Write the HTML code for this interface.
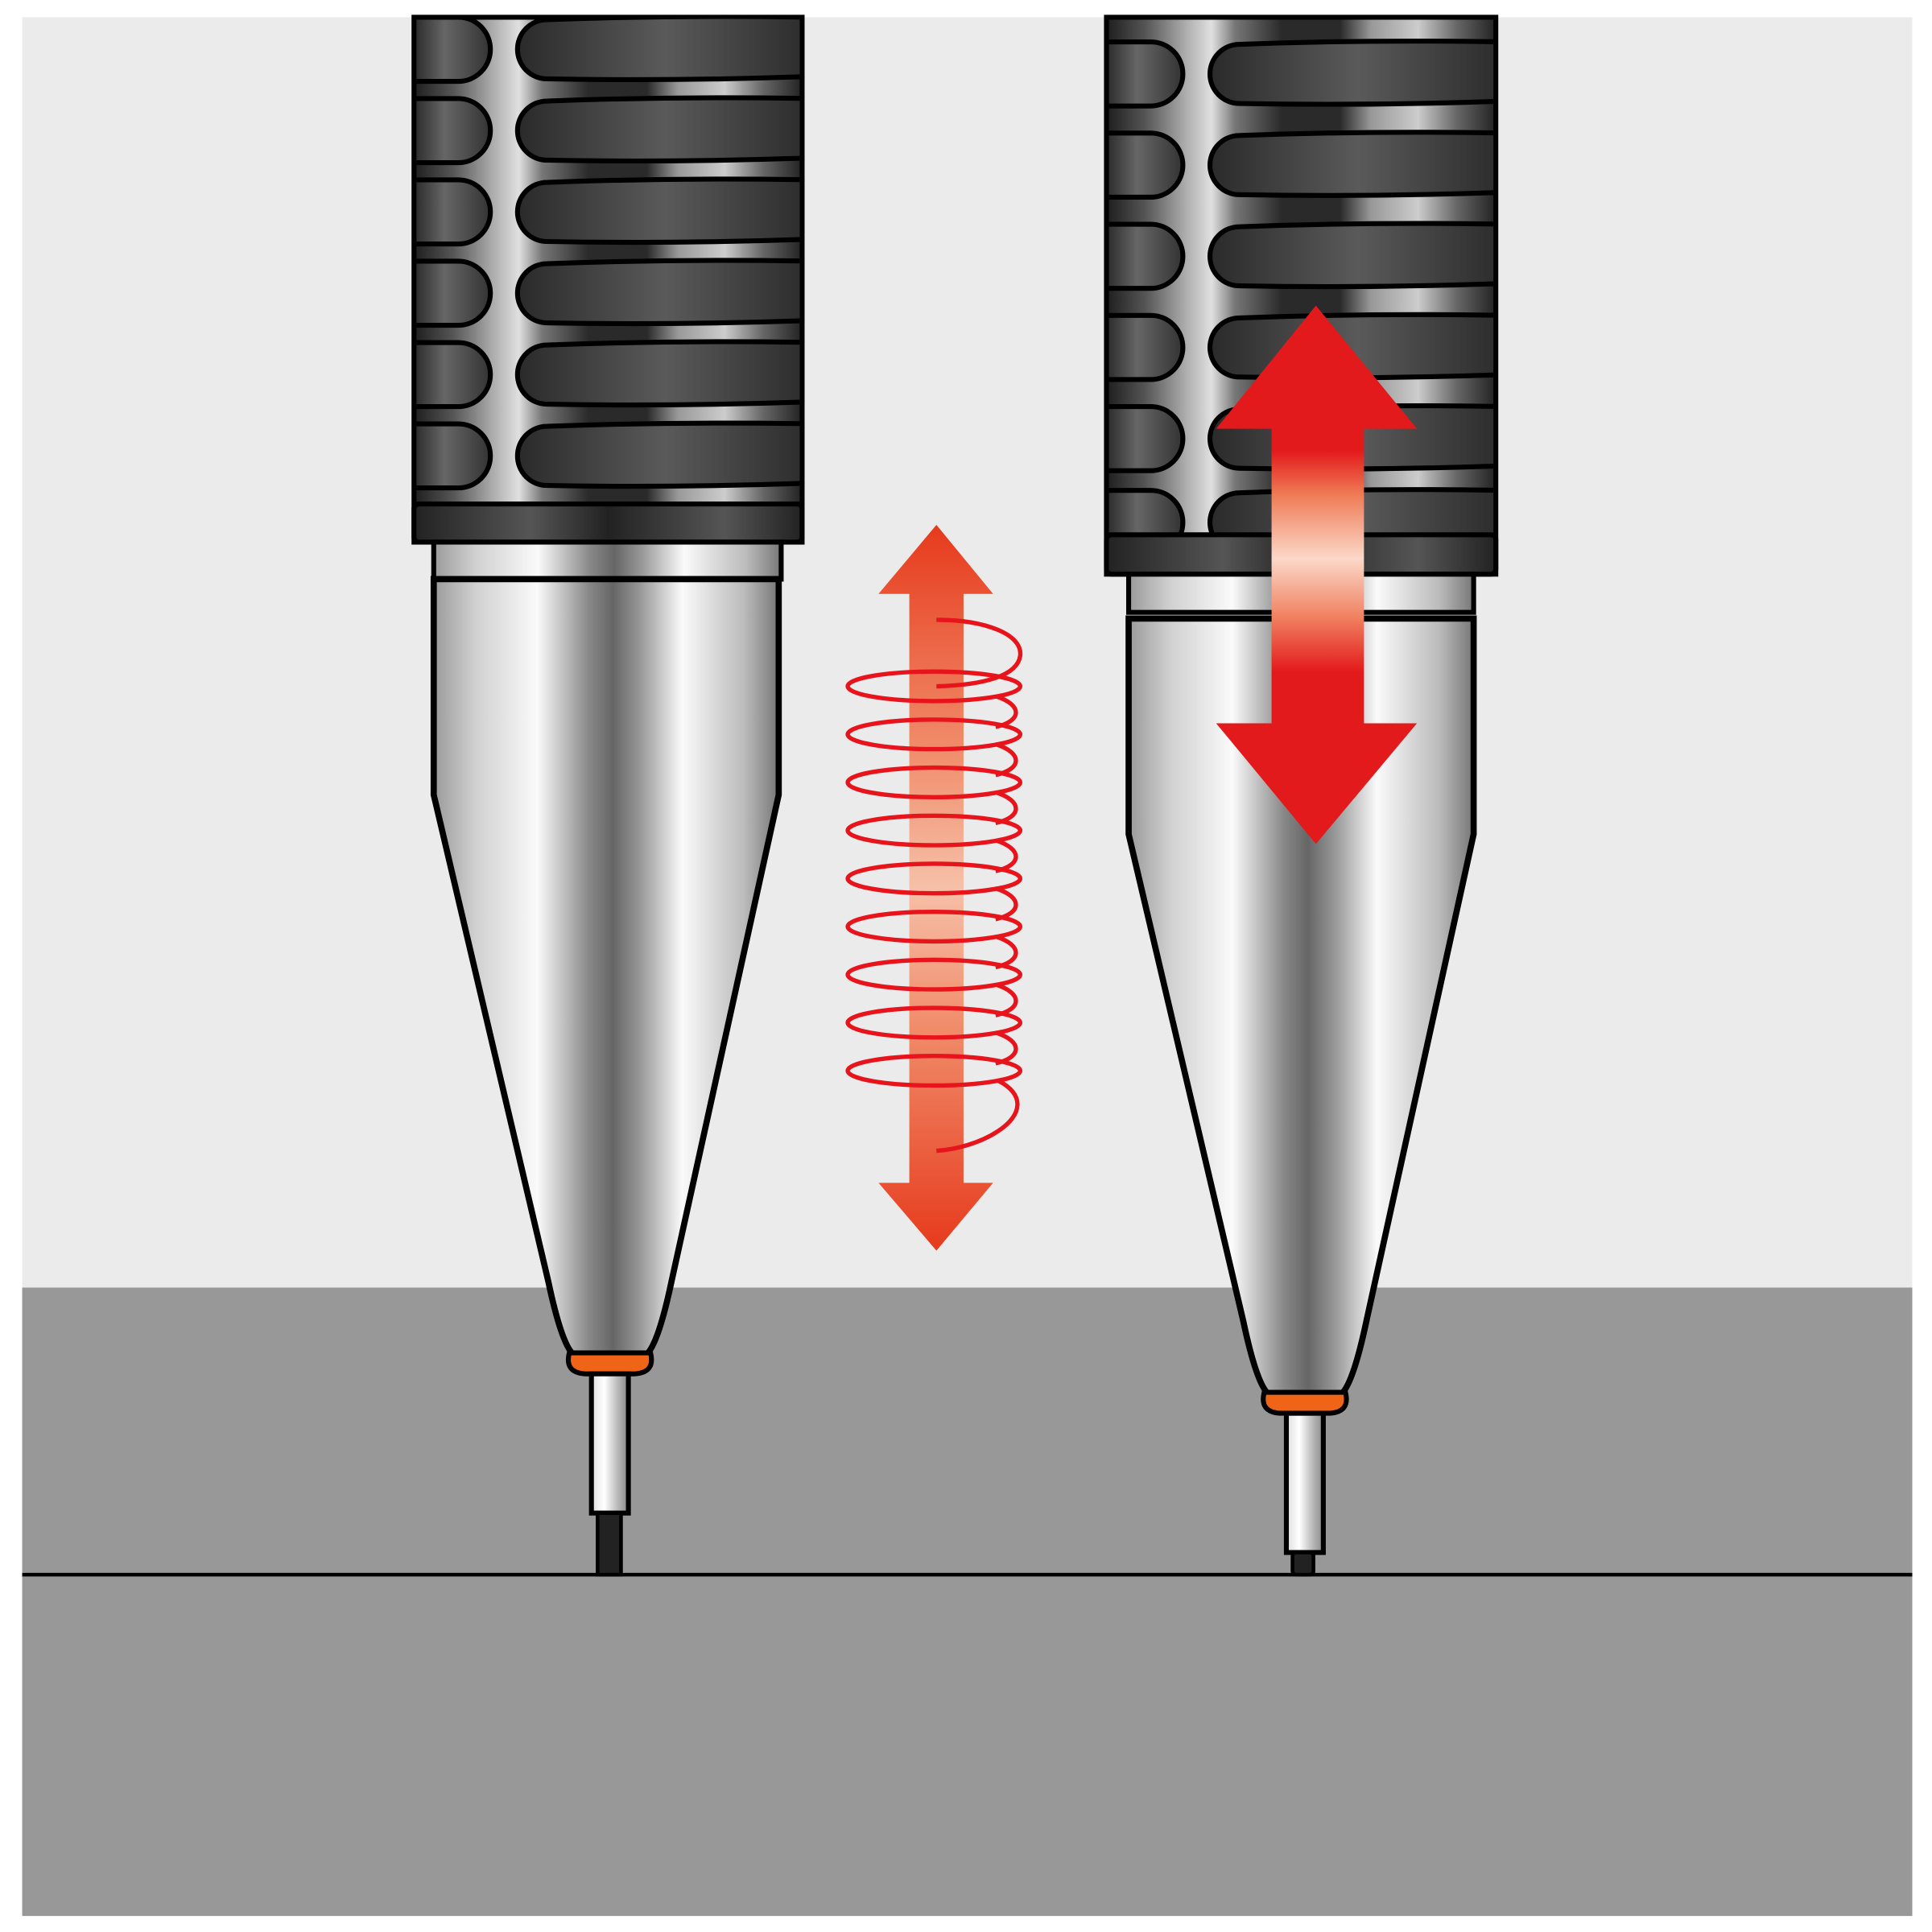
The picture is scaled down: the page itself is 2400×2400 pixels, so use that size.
<!DOCTYPE html>
<html><head><meta charset="utf-8"><style>html,body{margin:0;padding:0;background:#fff}svg{display:block}</style></head>
<body>
<svg width="2400" height="2400" viewBox="0 0 1568 1568" xmlns="http://www.w3.org/2000/svg">
<defs>
<linearGradient id="grip" x1="0" x2="1" y1="0" y2="0">
<stop offset="0" stop-color="#1e1e1e"/><stop offset="0.1" stop-color="#555"/><stop offset="0.2" stop-color="#aaa"/><stop offset="0.27" stop-color="#e0e0e0"/><stop offset="0.33" stop-color="#777"/><stop offset="0.45" stop-color="#2a2a2a"/><stop offset="0.6" stop-color="#2a2a2a"/><stop offset="0.68" stop-color="#999"/><stop offset="0.8" stop-color="#ccc"/><stop offset="0.9" stop-color="#666"/><stop offset="1" stop-color="#222"/>
</linearGradient>
<linearGradient id="rib" x1="0" x2="1" y1="0" y2="0">
<stop offset="0" stop-color="#2a2a2a"/><stop offset="0.5" stop-color="#5a5a5a"/><stop offset="1" stop-color="#2a2a2a"/>
</linearGradient>
<linearGradient id="lobe" x1="0" x2="1" y1="0" y2="0">
<stop offset="0" stop-color="#2a2a2a"/><stop offset="0.4" stop-color="#666"/><stop offset="1" stop-color="#333"/>
</linearGradient>
<linearGradient id="band" x1="0" x2="1" y1="0" y2="0">
<stop offset="0" stop-color="#222"/><stop offset="0.3" stop-color="#555"/><stop offset="0.5" stop-color="#222"/><stop offset="0.8" stop-color="#555"/><stop offset="1" stop-color="#222"/>
</linearGradient>
<linearGradient id="metal" x1="0" x2="1" y1="0" y2="0">
<stop offset="0" stop-color="#9a9a9a"/><stop offset="0.12" stop-color="#d0d0d0"/><stop offset="0.3" stop-color="#fafafa"/><stop offset="0.45" stop-color="#888"/><stop offset="0.52" stop-color="#666"/><stop offset="0.6" stop-color="#999"/><stop offset="0.72" stop-color="#fafafa"/><stop offset="0.9" stop-color="#bbb"/><stop offset="1" stop-color="#777"/>
</linearGradient>
<linearGradient id="sleeve" x1="0" x2="1" y1="0" y2="0">
<stop offset="0" stop-color="#ddd"/><stop offset="0.35" stop-color="#fff"/><stop offset="0.7" stop-color="#bbb"/><stop offset="1" stop-color="#888"/>
</linearGradient>
<linearGradient id="oarrow" x1="0" x2="0" y1="0" y2="1">
<stop offset="0" stop-color="#e63a1c"/><stop offset="0.3" stop-color="#f08a68"/><stop offset="0.5" stop-color="#f6c0a8"/><stop offset="0.7" stop-color="#f08a68"/><stop offset="1" stop-color="#e63a1c"/>
</linearGradient>
<linearGradient id="rarrow" x1="0" x2="0" y1="248" y2="685" gradientUnits="userSpaceOnUse">
<stop offset="0" stop-color="#e31a1c"/><stop offset="0.27" stop-color="#e31a1c"/><stop offset="0.35" stop-color="#ef7a55"/><stop offset="0.47" stop-color="#fbd8c8"/><stop offset="0.58" stop-color="#f08060"/><stop offset="0.68" stop-color="#e31a1c"/><stop offset="1" stop-color="#e31a1c"/>
</linearGradient>
<g id="ribL">
<path d="M336,-26 H372 a26,26 0 0 1 0,52 H336 Z" fill="url(#lobe)" stroke="#000" stroke-width="4"/>
<path d="M444,-24 Q550,-28 660,-26 V22 Q550,26 444,24 a24,24 0 0 1 0,-48 Z" fill="url(#rib)" stroke="#000" stroke-width="4"/>
</g>
<g id="lower">
<path d="M352,470 H632 V645 L545,1040 Q534,1092 524,1100 H466 Q456,1092 445,1040 L352,645 Z" fill="url(#metal)" stroke="#000" stroke-width="5"/>
<path d="M462,1098 H528 Q532,1114 515,1115 H475 Q458,1114 462,1098 Z" fill="#f06418" stroke="#000" stroke-width="4"/>
<rect x="480" y="1115" width="30" height="113" fill="url(#sleeve)" stroke="#000" stroke-width="4"/>
</g>
</defs>
<rect x="18" y="14" width="1534" height="1031" fill="#ebebeb"/>
<rect x="18" y="1045" width="1534" height="510" fill="#999898"/>
<line x1="18" y1="1278" x2="1552" y2="1278" stroke="#000" stroke-width="3"/>

<!-- left pencil -->
<rect x="336" y="14" width="315" height="426" fill="url(#grip)" stroke="#000" stroke-width="4"/>
<clipPath id="cl"><rect x="338" y="14" width="311" height="395"/></clipPath>
<g clip-path="url(#cl)">
<use href="#ribL" y="40"/><use href="#ribL" y="106"/><use href="#ribL" y="172"/><use href="#ribL" y="238"/><use href="#ribL" y="304"/><use href="#ribL" y="370"/>
</g>
<rect x="336" y="409" width="315" height="31" rx="4" fill="url(#band)" stroke="#000" stroke-width="4"/>
<path d="M352,440 H634 V470 H352 Z" fill="url(#metal)" stroke="#000" stroke-width="4"/>
<use href="#lower"/>
<rect x="485" y="1228" width="19" height="50" fill="#222" stroke="#000" stroke-width="3"/>

<!-- right pencil -->
<rect x="898" y="14" width="316" height="452" fill="url(#grip)" stroke="#000" stroke-width="4"/>
<clipPath id="cr"><rect x="900" y="14" width="312" height="420"/></clipPath>
<g clip-path="url(#cr)">
<use href="#ribL" x="562" y="60"/><use href="#ribL" x="562" y="134"/><use href="#ribL" x="562" y="208"/><use href="#ribL" x="562" y="282"/><use href="#ribL" x="562" y="356"/><use href="#ribL" x="562" y="424"/>
</g>
<rect x="898" y="434" width="316" height="32" rx="4" fill="url(#band)" stroke="#000" stroke-width="4"/>
<path d="M916,466 H1196 V497 H916 Z" fill="url(#metal)" stroke="#000" stroke-width="4"/>
<use href="#lower" x="564" y="32"/>
<rect x="1049" y="1260" width="17" height="18" rx="3" fill="#222" stroke="#000" stroke-width="3"/>

<!-- middle arrow -->
<path d="M760,426 L806,482 H782 V960 H806 L760,1015 L713,960 H738 V482 H713 Z" fill="url(#oarrow)"/>
<!-- spring -->
<g fill="none" stroke="#e8141c" stroke-width="3.5">
<path d="M760,503 C800,503 830,515 828,532 C826,548 800,556 760,557"/>
<ellipse cx="758" cy="557" rx="70" ry="12"/>
<ellipse cx="758" cy="596" rx="70" ry="12"/>
<ellipse cx="758" cy="635" rx="70" ry="12"/>
<ellipse cx="758" cy="674" rx="70" ry="12"/>
<ellipse cx="758" cy="713" rx="70" ry="12"/>
<ellipse cx="758" cy="752" rx="70" ry="12"/>
<ellipse cx="758" cy="791" rx="70" ry="12"/>
<ellipse cx="758" cy="830" rx="70" ry="12"/>
<ellipse cx="758" cy="869" rx="70" ry="12"/>
<path d="M808,565 C830,572 830,585 808,590 M808,604 C830,611 830,624 808,629 M808,643 C830,650 830,663 808,668 M808,682 C830,689 830,702 808,707 M808,721 C830,728 830,741 808,746 M808,760 C830,767 830,780 808,785 M808,799 C830,806 830,819 808,824 M808,838 C830,845 830,858 808,863"/>
<path d="M810,877 C832,888 830,905 810,918 C795,928 775,933 760,934"/>
</g>

<!-- right arrow -->
<path d="M1068,248 L1150,348 H1107 V587 H1150 L1068,685 L987,587 H1032 V348 H987 Z" fill="url(#rarrow)"/>
</svg>
</body></html>
